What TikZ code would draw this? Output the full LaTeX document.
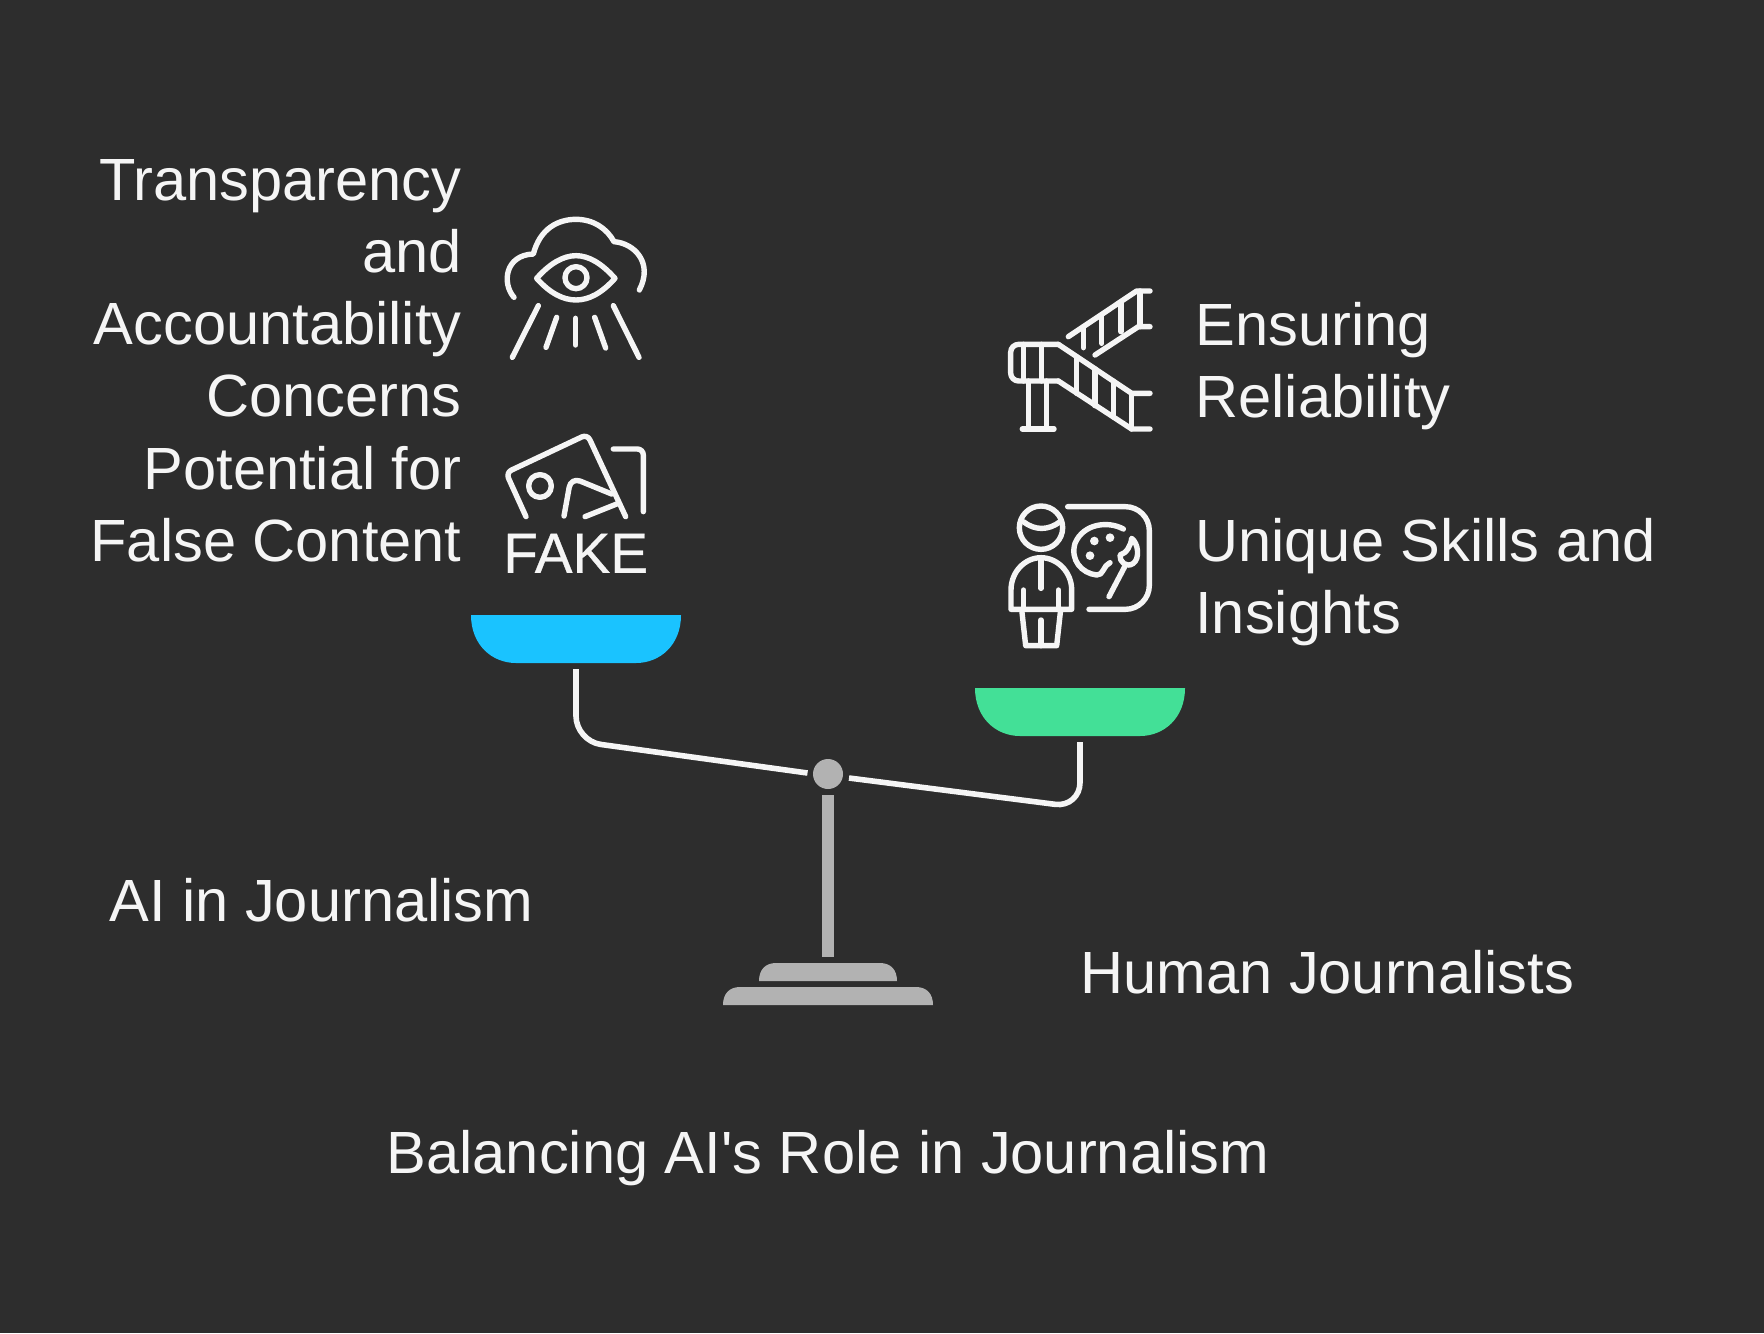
\documentclass[tikz,border=0pt]{standalone}
\usepackage{fontspec}
\setmainfont{Liberation Sans}
\newfontfamily\plainfont{Liberation Sans}
\newfontfamily\fakefont[FakeBold=0.6]{Liberation Sans}
\definecolor{bgdark}{HTML}{2D2D2D}
\definecolor{inkwhite}{HTML}{F5F5F5}
\definecolor{panblue}{HTML}{1AC3FF}
\definecolor{pangreen}{HTML}{43E097}
\definecolor{standgray}{HTML}{B2B2B2}
\tikzset{
  label/.style={
      text=inkwhite, inner sep=0pt,
      font=\fontsize{29.8}{36}\plainfont,
  },
  leftlabel/.style={label, align=right, anchor=east},
  rightlabel/.style={label, align=left, anchor=west},
  beam/.style={
    draw=inkwhite, line width=2.8pt, rounded corners=12.5pt,
  },
  icon/.style={
    draw=inkwhite, line width=2.7pt, line cap=round, line join=round,
  },
  pan/.style={
    fill=#1,
  },
  stand/.style={
    fill=standgray,
  }
}
\begin{document}
\begin{tikzpicture}[x=0.5pt,y=-0.5pt]
\fill [bgdark] (0,0) rectangle (1764,1333);
\useasboundingbox (0,0) rectangle (1764,1333);

% labels
\node [leftlabel] (transparency) at (462,288.5) {Transparency\\and\\Accountability\\Concerns};
\node [leftlabel] (falsecontent) at (462,504) {Potential for\\False Content};
\node [rightlabel] (reliability) at (1195,366) {Ensuring\\Reliability};
\node [rightlabel] (skills) at (1195,582) {Unique Skills and\\Insights};
\node [rightlabel] (aiside) at (109,900) {AI in Journalism};
\node [rightlabel] (humanside) at (1080,972) {Human Journalists};
\node [label] (title) at (828,1158) {Balancing AI's Role in Journalism};

% pans
\fill [pan=panblue] (471,615) -- (681,615) .. controls (681,645) and (660,663) .. (636,663) -- (516,663) .. controls (492,663) and (471,645) .. (471,615) -- cycle;
\fill [pan=pangreen] (975,688) -- (1185,688) .. controls (1185,718) and (1164,736) .. (1140,736) -- (1020,736) .. controls (996,736) and (975,718) .. (975,688) -- cycle;

% beam and stand
\node [circle, stand, minimum size=15pt, inner sep=0pt] (pivot) at (828,774) {};
\coordinate (bluehook) at (576,669);
\coordinate (bluecorner) at (576,741);
\coordinate (pivotleft) at (807.5,773);
\coordinate (pivotright) at (849,778);
\coordinate (greencorner) at (1080,807.5);
\coordinate (greenhook) at (1080,742);
\draw [beam] (bluehook) -- (bluecorner) -- (pivotleft);
\draw [beam] (pivotright) -- (greencorner) -- (greenhook);
\fill [stand] (822,795) rectangle (834,957);
\fill [stand] (759,981) .. controls (759,970) and (765,963) .. (776,963) -- (880,963) .. controls (891,963) and (897,970) .. (897,981) -- cycle;
\fill [stand] (723,1005) .. controls (723,994) and (729,987) .. (740,987) -- (916,987) .. controls (927,987) and (933,994) .. (933,1005) -- cycle;

% eye in the cloud
\begin{scope}[shift={(490,200)},scale=1/3]
\draw [icon] (72,292) .. controls (35,250) and (45,165) .. (130,162) .. controls (150,85) and (205,58) .. (258,58) .. controls (310,58) and (350,85) .. (372,125) .. controls (435,130) and (490,190) .. (448,270);
\draw [icon] (140,235) .. controls (180,190) and (220,167) .. (258,167) .. controls (296,167) and (335,190) .. (375,235) .. controls (335,280) and (296,300) .. (258,300) .. controls (220,300) and (180,280) .. (140,235) -- cycle;
\draw [icon] (258,233) circle [radius=33];
\draw [icon] (145,317) -- (67,472);
\draw [icon] (200,352) -- (168,442);
\draw [icon] (257,355) -- (257,435);
\draw [icon] (314,352) -- (347,444);
\draw [icon] (370,317) -- (447,472);
\end{scope}

% fake picture
\begin{scope}[shift={(490,420)},scale=1/3]
\draw [icon, rounded corners=3pt] (108,290) -- (48,158) -- (292,43) -- (407,290);
\draw [icon] (150,198) circle [radius=34];
\draw [icon, rounded corners=5pt] (222,288) -- (243,172) -- (365,222);
\draw [icon] (285,290) -- (385,250);
\draw [icon, rounded corners=3pt] (370,87) -- (460,87) -- (460,275);
\node [text=inkwhite, inner sep=0pt, font=\fontsize{28.3}{30}\fakefont] (fake) at (257,400) {FAKE};
\end{scope}

% stairs
\begin{scope}[shift={(995,275)},scale=1/3]
\draw [icon] (220,185) -- (425,48) -- (465,48);
\draw [icon] (300,240) -- (430,155) -- (465,155);
\draw [icon] (435,48) -- (435,155);
\draw [icon] (265,155) -- (265,218);
\draw [icon] (320,120) -- (320,205);
\draw [icon] (378,85) -- (378,170);
\draw [icon, rounded corners=4pt] (190,208) -- (47,208) -- (47,318) -- (190,318);
\draw [icon] (85,208) -- (85,318);
\draw [icon] (140,208) -- (140,318);
\draw [icon] (190,208) -- (410,355) -- (465,355);
\draw [icon] (190,318) -- (410,462) -- (465,462);
\draw [icon] (410,355) -- (410,462);
\draw [icon] (245,245) -- (245,355);
\draw [icon] (300,282) -- (300,392);
\draw [icon] (355,318) -- (355,426);
\draw [icon] (100,318) -- (100,462);
\draw [icon] (155,318) -- (155,462);
\draw [icon] (82,462) -- (177,462);
\end{scope}

% painter
\begin{scope}[shift={(995,490)},scale=1/3]
\draw [icon] (138,113) circle [radius=65];
\draw [icon] (85,95) .. controls (120,122) and (160,122) .. (195,95);
\draw [icon] (48,358) -- (48,300) .. controls (48,245) and (90,203) .. (138,203) .. controls (186,203) and (230,245) .. (230,300) -- (230,358) -- cycle;
\draw [icon] (138,205) -- (138,295);
\draw [icon] (85,300) -- (85,358);
\draw [icon] (190,300) -- (190,358);
\draw [icon] (80,358) -- (92,467) -- (185,467) -- (197,358);
\draw [icon] (138,390) -- (138,467);
\draw [icon, rounded corners=12pt] (218,50) -- (463,50) -- (463,358) -- (282,358);
\draw [icon] (385,117) .. controls (340,92) and (265,100) .. (240,160) .. controls (225,210) and (260,250) .. (305,255) .. controls (325,258) and (325,225) .. (345,218);
\fill [inkwhite] (298,153) circle [radius=13];
\fill [inkwhite] (345,143) circle [radius=13];
\fill [inkwhite] (285,197) circle [radius=13];
\draw [icon] (342,320) -- (388,232);
\draw [icon] (410,145) .. controls (430,160) and (435,205) .. (415,220) .. controls (395,235) and (372,215) .. (375,195) .. controls (395,190) and (408,165) .. (410,145) -- cycle;
\end{scope}
\end{tikzpicture}
\end{document}
